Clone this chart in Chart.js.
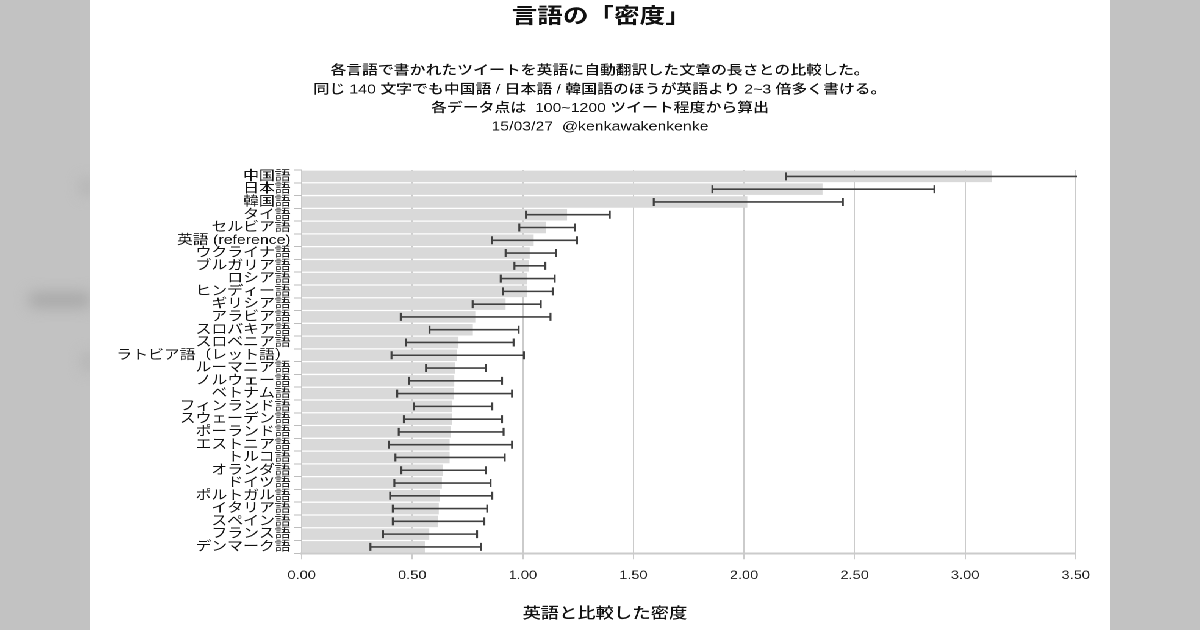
<!DOCTYPE html>
<html>
<head>
<meta charset="utf-8">
<title>言語の「密度」</title>
<script src="https://cdn.jsdelivr.net/npm/chart.js@4.4.1/dist/chart.umd.min.js"></script>
<style>
  html, body { margin:0; padding:0; }
  body { width:1200px; height:630px; overflow:hidden; background:#c2c2c2; position:relative; }
  .smudge { position:absolute; background:#a9a9a9; filter:blur(7px); border-radius:8px; }
  #panel { position:absolute; left:90px; top:0; width:836px; height:630px; background:#fff;
           transform:scaleX(1.22); transform-origin:0 0; }
  #chart { display:block; }
</style>
</head>
<body>
<div class="smudge" style="left:28px;top:292px;width:64px;height:16px"></div>
<div class="smudge" style="left:80px;top:178px;width:14px;height:18px;background:#b3b3b3"></div>
<div class="smudge" style="left:82px;top:352px;width:12px;height:20px;background:#b3b3b3"></div>
<div id="panel"><canvas id="chart" width="836" height="630"></canvas></div>
<script>
// data
const languages = ['中国語','日本語','韓国語','タイ語','セルビア語','英語 (reference)','ウクライナ語','ブルガリア語',
  'ロシア語','ヒンディー語','ギリシア語','アラビア語','スロバキア語','スロベニア語','ラトビア語（レット語）',
  'ルーマニア語','ノルウェー語','ベトナム語','フィンランド語','スウェーデン語','ポーランド語','エストニア語',
  'トルコ語','オランダ語','ドイツ語','ポルトガル語','イタリア語','スペイン語','フランス語','デンマーク語'];
const density = [3.12, 2.355, 2.015, 1.20, 1.106, 1.049, 1.031, 1.028, 1.019, 1.019, 0.922, 0.785, 0.774, 0.709, 0.703,
  0.693, 0.690, 0.687, 0.681, 0.679, 0.673, 0.669, 0.669, 0.639, 0.634, 0.626, 0.620, 0.616, 0.577, 0.557];
const errLow = [2.19, 1.857, 1.592, 1.014, 0.984, 0.860, 0.922, 0.962, 0.900, 0.909, 0.773, 0.448, 0.578, 0.472, 0.406,
  0.562, 0.485, 0.432, 0.507, 0.462, 0.439, 0.394, 0.424, 0.451, 0.419, 0.400, 0.412, 0.412, 0.368, 0.311];
const errHigh = [3.62, 2.861, 2.447, 1.393, 1.235, 1.245, 1.149, 1.102, 1.144, 1.135, 1.081, 1.125, 0.981, 0.958, 1.005,
  0.833, 0.906, 0.951, 0.862, 0.906, 0.913, 0.951, 0.918, 0.833, 0.854, 0.862, 0.839, 0.826, 0.793, 0.812];
const xTicks = [0, 0.5, 1, 1.5, 2, 2.5, 3, 3.5];

const titleText = '言語の「密度」';
const subtitleLines = [
  '各言語で書かれたツイートを英語に自動翻訳した文章の長さとの比較した。',
  '同じ 140 文字でも中国語 / 日本語 / 韓国語のほうが英語より 2~3 倍多く書ける。',
  '各データ点は  100~1200 ツイート程度から算出',
  '15/03/27  @kenkawakenkenke'
];
const xTitle = '英語と比較した密度';

const FONT = '"Liberation Sans", "Noto Sans CJK JP", sans-serif';

// error bars drawn on top of the bars, through the chart's own scales
const errorBars = {
  id: 'errorBars',
  afterDatasetsDraw(chart){
    const {ctx, chartArea, scales:{x, y}} = chart;
    ctx.save();
    ctx.beginPath();
    ctx.rect(chartArea.left, chartArea.top - 6, chartArea.right - chartArea.left + 1, chartArea.bottom - chartArea.top + 12);
    ctx.clip();
    ctx.strokeStyle = '#404040';
    ctx.lineWidth = 1.6;
    languages.forEach((_, i) => {
      const py = y.getPixelForValue(i);
      const x1 = x.getPixelForValue(errLow[i]);
      const x2 = x.getPixelForValue(errHigh[i]);
      ctx.beginPath();
      ctx.moveTo(x1, py); ctx.lineTo(x2, py);
      ctx.moveTo(x1, py - 4); ctx.lineTo(x1, py + 4);
      ctx.moveTo(x2, py - 4); ctx.lineTo(x2, py + 4);
      ctx.stroke();
    });
    ctx.restore();
  }
};

// title, notes and axis caption
const headings = {
  id: 'headings',
  afterDraw(chart){
    const ctx = chart.ctx;
    ctx.save();
    ctx.fillStyle = '#111';
    ctx.textAlign = 'center';
    ctx.textBaseline = 'middle';
    ctx.font = 'bold 21px ' + FONT;
    ctx.fillText(titleText, 419, 17);
    ctx.font = '500 13px ' + FONT;
    subtitleLines.forEach((t, i) => ctx.fillText(t, 418, 71 + i * 18.7));
    ctx.font = '500 15px ' + FONT;
    ctx.fillText(xTitle, 422, 614);
    ctx.restore();
  }
};

new Chart(document.getElementById('chart'), {
  type: 'bar',
  data: {
    labels: languages,
    datasets: [{
      data: density,
      backgroundColor: '#d9d9d9',
      borderWidth: 0,
      categoryPercentage: 1,
      barPercentage: 0.9
    }]
  },
  plugins: [errorBars, headings],
  options: {
    indexAxis: 'y',
    responsive: false,
    animation: false,
    devicePixelRatio: 2,
    layout: { padding: { top: 170, right: 28, bottom: 0, left: 0 } },
    plugins: { legend: { display: false }, tooltip: { enabled: false }, title: { display: false } },
    scales: {
      x: {
        min: 0, max: 3.5,
        afterBuildTicks: s => { s.ticks = xTicks.map(v => ({ value: v })); },
        afterFit: s => { s.height = 76.7; },
        ticks: { color: '#222', padding: 9, font: { family: FONT, size: 12 }, callback: v => Number(v).toFixed(2) },
        grid: { color: '#cbcbcb', lineWidth: 1, tickLength: 6 },
        border: { color: '#cbcbcb', width: 2 }
      },
      y: {
        afterFit: s => { s.width = 173.5; },
        ticks: { color: '#111', padding: 3, autoSkip: false, font: { family: FONT, size: 13 } },
        grid: { offset: true, drawOnChartArea: false, color: '#bdbdbd', tickLength: 6 },
        border: { display: false }
      }
    }
  }
});
</script>
</body>
</html>
